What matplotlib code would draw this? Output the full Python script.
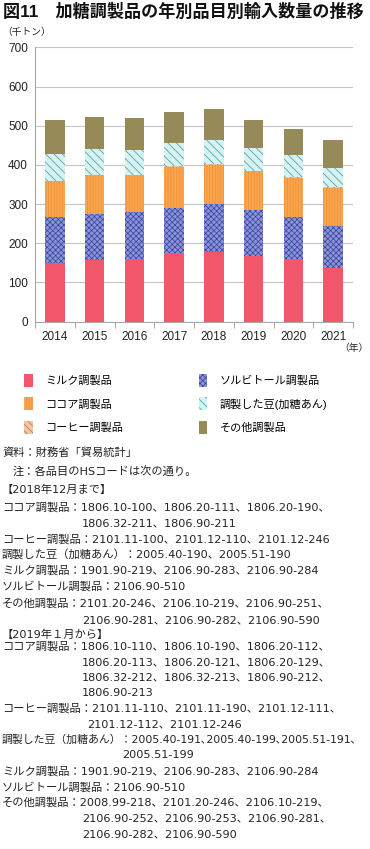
import matplotlib
matplotlib.use("Agg")
import matplotlib.pyplot as plt
import numpy as np

plt.rcParams['font.family'] = ['Liberation Sans', 'Noto Sans CJK JP', 'DejaVu Sans']
plt.rcParams['hatch.linewidth'] = 0.5

years = ['2014', '2015', '2016', '2017', '2018', '2019', '2020', '2021']
milk = [151, 158, 161, 174, 179, 168, 160, 138]
sorbitol = [115, 118, 118, 117, 120, 117, 107, 106]
cocoa = [93, 98, 95, 104, 102, 99, 100, 98]
coffee = [1, 1, 1, 1, 1, 1, 1, 1]
beans = [69, 65, 62, 60, 61, 57, 56, 50]
other = [85, 82, 82, 78, 80, 73, 67, 71]

series_names = ['ミルク調製品', 'ソルビトール調製品', 'ココア調製品', 'コーヒー調製品',
                '調製した豆(加糖あん)', 'その他調製品']
series_vals = [milk, sorbitol, cocoa, coffee, beans, other]
face = ['#f2566a', '#8c93d6', '#f9a650', '#efc7a8', '#d9f1f1', '#958a58']
hatchc = ['#f2566a', '#34409e', '#f08c2e', '#c07040', '#2aa0a0', '#958a58']
hatches = [None, 'xxxxxx', '||||||', '\\\\\\\\\\', '\\\\\\\\', None]

W, H = 370, 849
fig = plt.figure(figsize=(W / 100, H / 100), dpi=100)

def fx(px):
    return px / W

def fy(py):
    return 1 - py / H

ax = fig.add_axes([fx(35), fy(321.7), fx(353) - fx(35), fy(47.3) - fy(321.7)])
x = np.arange(len(years))
bottom = np.zeros(len(years))
handles = []
for name, vals, fc, hc, h in zip(series_names, series_vals, face, hatchc, hatches):
    b = ax.bar(x, vals, width=0.486, bottom=bottom, facecolor=fc, edgecolor=hc,
               hatch=h, linewidth=0, label=name, zorder=3)
    handles.append(b)
    bottom += np.array(vals)

ax.set_xlim(-0.5, len(years) - 0.5)
ax.set_ylim(0, 700)
ax.set_yticks(range(0, 701, 100))
ax.yaxis.grid(True, color='#c4c4c4', linewidth=0.8, zorder=0)
ax.set_axisbelow(True)
for s in ['top', 'right']:
    ax.spines[s].set_visible(False)
for s in ['left', 'bottom']:
    ax.spines[s].set_color('#a8a8a8')
    ax.spines[s].set_linewidth(0.8)
ax.set_xticks(x)
ax.set_xticklabels(years)
ax.set_xticks(np.arange(-0.5, len(years), 1.0), minor=True)
ax.tick_params(axis='x', which='major', length=0, pad=7, labelsize=8.5, colors='#222222')
ax.tick_params(axis='x', which='minor', length=4, color='#a8a8a8', width=0.8)
ax.tick_params(axis='y', length=0, pad=5, labelsize=8.5, colors='#222222')

fig.text(fx(3), fy(11), '図11　加糖調製品の年別品目別輸入数量の推移', fontsize=12.3,
         fontweight='bold', va='center', ha='left', color='#111111')
fig.text(fx(2), fy(32), '（千トン）', fontsize=7, va='center', ha='left', color='#222222')
fig.text(fx(368), fy(348), '（年）', fontsize=7, va='center', ha='right', color='#222222')

order = [0, 2, 3, 1, 4, 5]
leg = fig.legend([handles[i] for i in order], [series_names[i] for i in order],
                 ncol=2, loc='upper left', bbox_to_anchor=(fx(24), fy(374)),
                 frameon=False, fontsize=8, handlelength=0.8, handleheight=1.4,
                 handletextpad=1.1, labelspacing=0.95, columnspacing=6.8,
                 borderaxespad=0, borderpad=0)

notes = [
    (2, 453, '資料：財務省「貿易統計」', 8.1),
    (13, 472, '注：各品目のHSコードは次の通り。', 8.1),
    (2, 490, '【2018年12月まで】', 8.1),
    (2, 507, 'ココア調製品：1806.10-100、1806.20-111、1806.20-190、', 8.1),
    (82, 523, '1806.32-211、1806.90-211', 8.1),
    (2, 539, 'コーヒー調製品：2101.11-100、2101.12-110、2101.12-246', 8.1),
    (2, 554, '調製した豆（加糖あん）：2005.40-190、2005.51-190', 8.1),
    (2, 570, 'ミルク調製品：1901.90-219、2106.90-283、2106.90-284', 8.1),
    (2, 586, 'ソルビトール調製品：2106.90-510', 8.1),
    (2, 603, 'その他調製品：2101.20-246、2106.10-219、2106.90-251、', 8.1),
    (82, 620, '2106.90-281、2106.90-282、2106.90-590', 8.1),
    (2, 635, '【2019年１月から】', 8.1),
    (2, 646, 'ココア調製品：1806.10-110、1806.10-190、1806.20-112、', 8.1),
    (82, 662, '1806.20-113、1806.20-121、1806.20-129、', 8.1),
    (82, 677, '1806.32-212、1806.32-213、1806.90-212、', 8.1),
    (82, 693, '1806.90-213', 8.1),
    (2, 708, 'コーヒー調製品：2101.11-110、2101.11-190、2101.12-111、', 8.1),
    (87, 724, '2101.12-112、2101.12-246', 8.1),
    (2, 740, '調製した豆（加糖あん）：2005.40-191､2005.40-199､2005.51-191､', 7.8),
    (122, 755, '2005.51-199', 8.1),
    (2, 771, 'ミルク調製品：1901.90-219、2106.90-283、2106.90-284', 8.1),
    (2, 787, 'ソルビトール調製品：2106.90-510', 8.1),
    (2, 802, 'その他調製品：2008.99-218、2101.20-246、2106.10-219、', 8.1),
    (82, 818, '2106.90-252、2106.90-253、2106.90-281、', 8.1),
    (82, 834, '2106.90-282、2106.90-590', 8.1),
]
note_family = ['DejaVu Sans', 'Noto Sans CJK JP']
for px, py, t, fs in notes:
    fig.text(fx(px), fy(py), t, fontsize=fs, va='center', ha='left', color='#222222',
             family=note_family)

fig.savefig('out.png', dpi=100, facecolor='white')
